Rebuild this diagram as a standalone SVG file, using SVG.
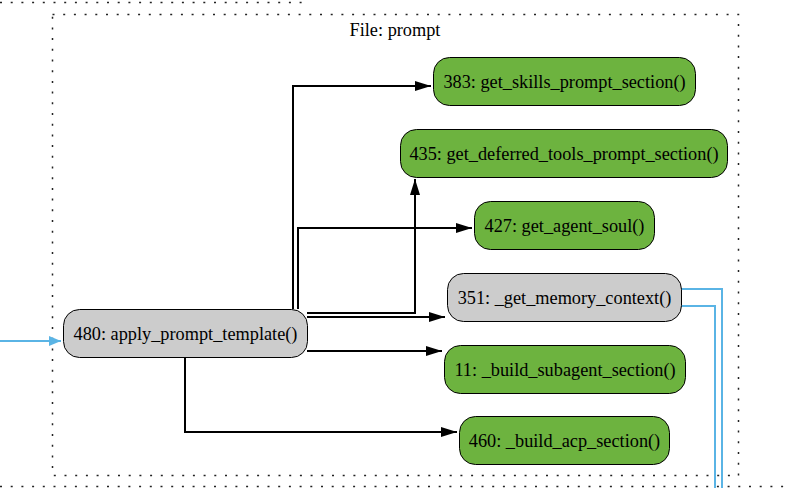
<svg xmlns="http://www.w3.org/2000/svg" width="786" height="488" viewBox="0 0 786 488">
<defs>
<style>
.n rect{stroke:#000;stroke-width:1}
.g rect{fill:#6db33f}
.c rect{fill:#cccccc}
.t{font-size:18.3px;fill:#000;text-anchor:middle}
.e{fill:none;stroke:#000;stroke-width:2}
.b{fill:none;stroke:#5ab4e5;stroke-width:2}
.dot{fill:none;stroke:#222;stroke-width:1.5;stroke-dasharray:2 8.7}
</style>
<marker id="bh" markerWidth="12" markerHeight="10" refX="12" refY="5" orient="auto" markerUnits="userSpaceOnUse"><path d="M0,0 L12,5 L0,10 z" fill="#5ab4e5"/></marker>
<marker id="ahl" markerWidth="16" markerHeight="10" refX="16" refY="5" orient="auto" markerUnits="userSpaceOnUse"><path d="M0,0 L16,5 L0,10 z" fill="#000"/></marker>
</defs>
<g font-family="Liberation Serif, Times New Roman, serif">
<g id="borders">
<path class="dot" d="M0,2.5 H310"/>
<path class="dot" d="M0,486.5 H786"/>
<rect class="dot" x="52.5" y="14.5" width="686" height="461"/>
<text class="t" x="395" y="36">File: prompt</text>
</g>
<g id="connectors">
<path class="b" d="M0,341 H61" marker-end="url(#bh)"/>
<path class="b" d="M681,289 H722 V488"/>
<path class="b" d="M681,306 H715 V488"/>
<path class="e" d="M293,309 V86 H431" marker-end="url(#ahl)"/>
<path class="e" d="M307,313 H415 V179" marker-end="url(#ahl)"/>
<path class="e" d="M298,309 V228 H472" marker-end="url(#ahl)"/>
<path class="e" d="M307,317 H445" marker-end="url(#ahl)"/>
<path class="e" d="M307,351 H442" marker-end="url(#ahl)"/>
<path class="e" d="M185,357 V432 H457" marker-end="url(#ahl)"/>
</g>
<g id="n480" class="n c"><rect x="63.5" y="309.5" width="244" height="48" rx="16"/><text class="t" x="185.5" y="339.5">480: apply_prompt_template()</text></g>
<g id="n383" class="n g"><rect x="433.5" y="57.5" width="262" height="48" rx="16"/><text class="t" x="564.5" y="87.5">383: get_skills_prompt_section()</text></g>
<g id="n435" class="n g"><rect x="400.5" y="129.5" width="327" height="48" rx="16"/><text class="t" x="564" y="159.5">435: get_deferred_tools_prompt_section()</text></g>
<g id="n427" class="n g"><rect x="474.5" y="201.5" width="180" height="48" rx="16"/><text class="t" x="564.5" y="231.5">427: get_agent_soul()</text></g>
<g id="n351" class="n c"><rect x="447.5" y="273.5" width="234" height="48" rx="16"/><text class="t" x="564.5" y="303.5">351: _get_memory_context()</text></g>
<g id="n11" class="n g"><rect x="444.5" y="345.5" width="241" height="48" rx="16"/><text class="t" x="565" y="375.5">11: _build_subagent_section()</text></g>
<g id="n460" class="n g"><rect x="459.5" y="416.5" width="210" height="48" rx="16"/><text class="t" x="564.5" y="446.5">460: _build_acp_section()</text></g>
</g>
</svg>
